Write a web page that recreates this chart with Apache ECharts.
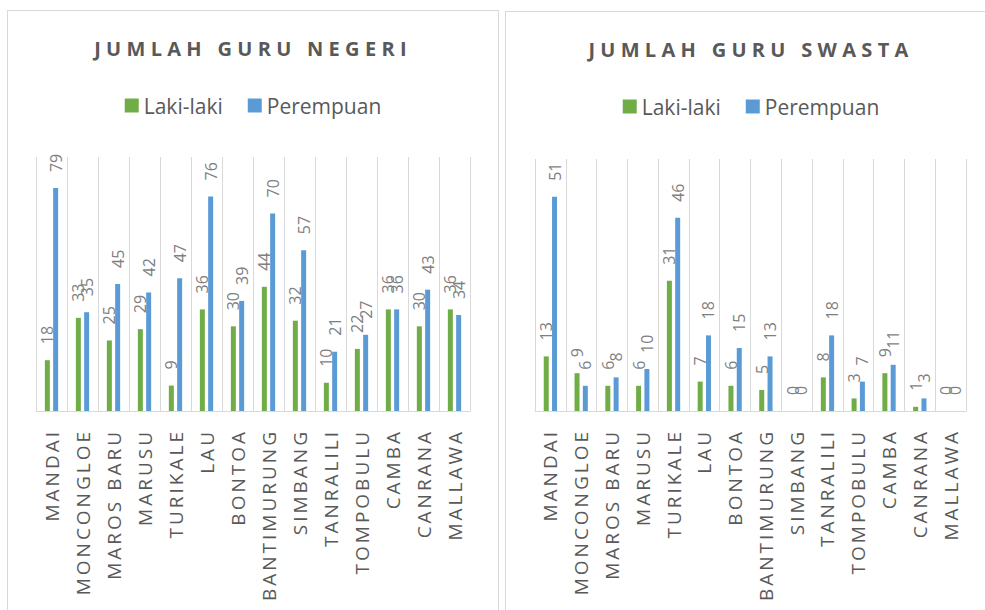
<!DOCTYPE html>
<html>
<head>
<meta charset="utf-8">
<script src="https://cdn.jsdelivr.net/npm/echarts@6/dist/echarts.min.js"></script>
<style>
body {
  margin: 0;
  background: #fff;
}
.box {
  position: absolute;
  border: 1px solid #d9d9d9;
  background: #fff;
}
#negeriBox { left: 7px; top: 10px; width: 490px; height: 620px; }
#swastaBox { left: 505px; top: 11px; width: 490px; height: 620px; }
.chart { width: 100%; height: 100%; }
/* spaced caps like the Excel original (svg renderer) */
text[style*="Lato"] { letter-spacing: 3px; }
text[style*="Inter"] { letter-spacing: 5.3px; }
</style>
</head>
<body>
<div class="box" id="negeriBox"><div class="chart" id="negeriChart"></div></div>
<div class="box" id="swastaBox"><div class="chart" id="swastaChart"></div></div>
<script>
var kecamatan = ['MANDAI', 'MONCONGLOE', 'MAROS BARU', 'MARUSU', 'TURIKALE', 'LAU', 'BONTOA',
  'BANTIMURUNG', 'SIMBANG', 'TANRALILI', 'TOMPOBULU', 'CAMBA', 'CANRANA', 'MALLAWA']
var seriesNames = ['Laki-laki', 'Perempuan']

var negeriLaki = [18, 33, 25, 29, 9, 36, 30, 44, 32, 10, 22, 36, 30, 36]
var negeriPerempuan = [79, 35, 45, 42, 47, 76, 39, 70, 57, 21, 27, 36, 43, 34]

var swastaLaki = [13, 9, 6, 6, 31, 7, 6, 5, 0, 8, 3, 9, 1, 0]
var swastaPerempuan = [51, 6, 8, 10, 46, 18, 15, 13, 0, 18, 7, 11, 3, 0]

var colors = ['#70ad47', '#5b9bd5']

function barSeries(name, data, color) {
  return {
    name: name,
    type: 'bar',
    data: data,
    barWidth: 5,
    barGap: '66%',
    itemStyle: { color: color },
    label: {
      show: true,
      position: 'top',
      rotate: 90,
      align: 'left',
      verticalAlign: 'middle',
      distance: 16,
      fontFamily: "'Open Sans'",
      fontSize: 16,
      color: '#7f7f7f'
    }
  }
}

function makeOption(title, laki, perempuan, max, grid) {
  return {
    animation: false,
    title: {
      text: title,
      left: 'center',
      top: 22,
      textStyle: {
        fontFamily: "'Open Sans', Inter",
        fontSize: 20,
        fontWeight: 'bold',
        color: '#595959'
      }
    },
    legend: {
      data: seriesNames,
      top: 79,
      left: 'center',
      icon: 'rect',
      itemWidth: 14,
      itemHeight: 14,
      itemGap: 25,
      textStyle: { fontFamily: "'Open Sans'", fontSize: 21, color: '#595959' }
    },
    grid: grid,
    xAxis: {
      type: 'category',
      data: kecamatan,
      axisLine: { lineStyle: { color: '#d9d9d9', width: 1 } },
      axisTick: { show: false },
      splitLine: { show: true, lineStyle: { color: '#d9d9d9', width: 1 } },
      axisLabel: {
        rotate: 90,
        interval: 0,
        margin: 18,
        fontFamily: "'Open Sans', Lato",
        fontSize: 19,
        color: '#595959'
      }
    },
    yAxis: {
      type: 'value',
      min: 0,
      max: max,
      show: false,
      splitLine: { show: false }
    },
    series: [
      barSeries(seriesNames[0], laki, colors[0]),
      barSeries(seriesNames[1], perempuan, colors[1])
    ]
  }
}

var negeri = echarts.init(document.getElementById('negeriChart'), null, { renderer: 'svg' })
negeri.setOption(makeOption('JUMLAH GURU NEGERI', negeriLaki, negeriPerempuan, 90,
  { left: 28, top: 146, width: 434, height: 254 }))

var swasta = echarts.init(document.getElementById('swastaChart'), null, { renderer: 'svg' })
swasta.setOption(makeOption('JUMLAH GURU SWASTA', swastaLaki, swastaPerempuan, 60,
  { left: 29, top: 147, width: 431, height: 252 }))
</script>
</body>
</html>
